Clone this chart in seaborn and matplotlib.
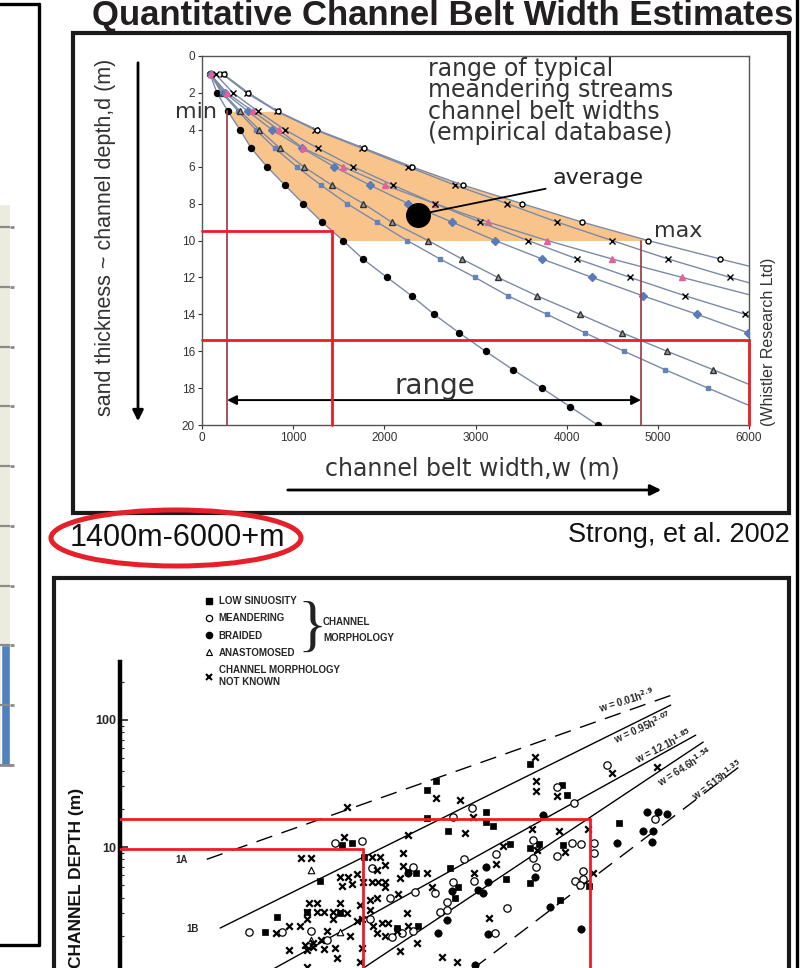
import numpy as np
import matplotlib
matplotlib.use("Agg")
import matplotlib.pyplot as plt
from matplotlib.lines import Line2D
from matplotlib.patches import Rectangle, Ellipse, FancyArrowPatch
from matplotlib.ticker import NullLocator, NullFormatter, LogLocator
import seaborn as sns

# ---------- upper chart: channel belt width (m) read at each depth (m) ----------
depth = list(range(1, 21))
w_dots = [90, 164, 285, 417, 540, 712, 910, 1110, 1316, 1546, 1765, 2030, 2300, 2545, 2820, 3110, 3410, 3728, 4035, 4340]
w_squares = [95, 215, 400, 590, 800, 1040, 1305, 1590, 1920, 2250, 2610, 2995, 3356, 3784, 4200, 4629, 5078, 5550, 6030]
w_triangles = [95, 230, 420, 630, 855, 1115, 1425, 1770, 2080, 2480, 2850, 3245, 3675, 4146, 4607, 5100, 5605, 6100]
w_diamonds = [95, 250, 505, 768, 1100, 1448, 1843, 2260, 2742, 3214, 3730, 4278, 4837, 5430, 5990, 6600]
w_pink = [95, 274, 560, 840, 1110, 1547, 2008, 2556, 3137, 3785, 4498, 5266, 6050]
w_cross = [150, 340, 614, 910, 1272, 1657, 2095, 2556, 3050, 3576, 4114, 4695, 5300, 5957, 6600]
w_cross_hi = [230, 490, 820, 1240, 1755, 2260, 2775, 3346, 3894, 4497, 5112, 5792, 6500]
w_circles = [240, 510, 830, 1260, 1780, 2300, 2863, 3510, 4168, 4892, 5682, 6500]

min_width, min_depth = 275, 3
max_width, max_depth = 4815, 10
avg_width, avg_depth = 2370, 8.6
range_depth = 18.65
red_depths = [9.5, 15.4]
red_widths = [1425, 6000]

# ---------- lower chart: channel width (m) vs channel depth (m), log-log ----------
unk_w = [56, 53, 24, 29, 90, 104, 114, 174, 159, 159,
         248, 293, 459, 68, 49, 57, 51, 62, 98, 76,
         90, 100, 114, 114, 150, 272, 145, 98, 86, 28,
         32, 27, 32, 37, 43, 49, 56, 49, 72, 86,
         171, 43, 68, 19, 23.5, 27, 74, 91, 108, 120,
         142, 174, 98, 114, 39, 15, 60, 35, 30, 26,
         27, 30, 19, 37, 45, 47, 74, 150, 206, 328,
         434, 72, 27, 1880, 1880, 2780, 7700, 17800, 583, 504,
         1750, 2880, 4930, 1020, 3220, 1920, 894, 594, 5420, 785,
         1850]
unk_h = [20.7, 12.0, 8.2, 8.2, 8.3, 8.3, 7.2, 12.4, 9.0, 7.1,
         6.2, 24.3, 23.5, 6.1, 5.8, 5.8, 4.9, 5.1, 6.6, 5.3,
         5.3, 5.3, 5.3, 4.8, 5.7, 4.8, 4.3, 4.0, 3.8, 3.6,
         3.6, 3.1, 3.1, 3.1, 3.1, 3.1, 3.0, 3.6, 3.5, 3.2,
         3.0, 2.7, 2.6, 2.4, 2.4, 2.7, 2.7, 2.4, 2.5, 2.5,
         2.2, 2.4, 2.1, 2.0, 2.2, 2.1, 2.0, 1.85, 1.75, 1.7,
         1.55, 1.63, 1.55, 1.57, 1.6, 1.34, 1.6, 1.52, 1.75, 1.37,
         1.24, 1.24, 1.14, 33, 27.6, 25.2, 38.3, 43, 17.3, 12.9,
         13.8, 13.4, 13.8, 10.2, 9.1, 9.5, 7.35, 6.2, 6.2, 2.76,
         51]
low_w = [248, 293, 248, 366, 51, 62, 77, 34, 174, 202,
         381, 418, 442, 15.4, 27, 49, 12.3, 142, 210, 1680,
         3050, 3340, 743, 846, 743, 1160, 1680, 1990, 3110, 8790,
         1080, 1680, 2940, 5030]
low_h = [28.1, 33, 17, 13.4, 10.4, 10.8, 8.3, 5.4, 6.35, 6.2,
         6.8, 4.0, 4.8, 2.8, 3.1, 3.0, 2.14, 2.3, 2.4, 45,
         31, 25.7, 18.9, 14.6, 15.7, 10.6, 9.9, 10.6, 10.4, 15.4,
         5.6, 5.2, 3.8, 4.9]
mea_w = [45, 74, 90, 191, 125, 199, 287, 403, 403, 360,
         316, 360, 86, 130, 156, 191, 9.1, 16.8, 29, 39,
         573, 2780, 3810, 7020, 494, 894, 1780, 1780, 1880, 3670,
         4340, 5520, 5520, 2780, 4500, 3880, 4500, 4260, 594, 1100,
         878, 17150]
mea_h = [10.8, 11.2, 6.8, 7.0, 4.0, 4.4, 4.35, 17.3, 5.3, 3.7,
         3.1, 3.2, 2.7, 1.96, 2.1, 2.2, 2.14, 2.14, 2.2, 1.85,
         20.3, 29.7, 22.3, 44, 8.0, 8.8, 11.4, 8.2, 7.0, 10.8,
         10.6, 10.8, 9.0, 8.5, 6.5, 5.4, 5.6, 5.0, 5.4, 3.3,
         2.1, 16.6]
bra_w = [174, 396, 360, 304, 2140, 743, 771, 641, 703, 1850,
         2440, 4340, 771, 606, 14800, 18100, 21400, 13700, 16500, 8470,
         16200]
bra_h = [6.2, 4.5, 2.66, 2.1, 17.9, 7.0, 5.3, 4.6, 4.35, 5.8,
         3.4, 2.26, 2.06, 1.18, 18.9, 18.9, 18.2, 13.4, 13.4, 10.8,
         11.0]
ana_w = [29, 29, 49]
ana_h = [6.6, 1.85, 2.14]

coef = [0.01, 0.95, 12.1, 64.6, 513]
expo = [2.9, 2.07, 1.85, 1.54, 1.35]
h_start = [8.0, 2.3, 1.0, 1.0, 1.0]
h_end = [157, 131, 76, 67, 44]
eq_labels = ["w = 0.01h$^{2.9}$", "w = 0.95h$^{2.07}$", "w = 12.1h$^{1.85}$",
             "w = 64.6h$^{1.54}$", "w = 513h$^{1.35}$"]
low_red_depths = [9.6, 16.6]
low_red_widths = [76, 5100]

# cropped neighbour chart at the left edge
side_cats = ["a"]
side_vals = [2.0]

# ---------------------------------------------------------------------------
sns.set_theme(style="white")
plt.rcParams["font.family"] = ["Liberation Sans", "DejaVu Sans"]
plt.rcParams["mathtext.default"] = "bf"
NARROW = ["Liberation Sans Narrow", "Liberation Sans", "DejaVu Sans"]
WIDE = ["DejaVu Sans"]

W, H = 805, 968
fig = plt.figure(figsize=(W / 100, H / 100), dpi=100)
fig.patch.set_facecolor("white")


def fx(px):
    return px / W


def fy(py):
    return 1 - py / H


def fline(x0, y0, x1, y1, **kw):
    fig.add_artist(Line2D([fx(x0), fx(x1)], [fy(y0), fy(y1)], transform=fig.transFigure, **kw))


# title
fig.text(fx(443), fy(25), "Quantitative Channel Belt Width Estimates", ha="center", va="baseline",
         fontsize=25, fontweight="bold", color="#231f20")

# slide frames
fline(0, 4, 39, 4, color="black", lw=2.4)
fline(39, 4, 39, 945, color="black", lw=2.4)
fline(0, 945, 39, 945, color="black", lw=2.4)
fline(797, 0, 797, 968, color="black", lw=2.4)
fig.add_artist(Rectangle((fx(73), fy(513)), fx(789) - fx(73), fy(33) - fy(513), transform=fig.transFigure,
                         fill=False, ec="#1a1a1a", lw=3))
fig.add_artist(Rectangle((fx(54), fy(1000)), fx(789) - fx(54), fy(578) - fy(1000), transform=fig.transFigure,
                         fill=False, ec="#1a1a1a", lw=3))

# ---- sliver of the neighbouring chart
ax0 = fig.add_axes([0, fy(765), fx(10), (765 - 205) / H])
ax0.set_facecolor("#ecebdf")
sns.barplot(x=side_cats, y=side_vals, ax=ax0, color="#4f81bd", width=1.0, saturation=1)
ax0.set_xlim(-0.6, 0.5)
ax0.set_ylim(0, 9.37)
ax0.set_yticks(range(0, 10))
ax0.yaxis.tick_right()
ax0.tick_params(axis="y", right=True, length=3, width=2, color="#8a8a8a", labelright=False)
ax0.set_xticks([])
ax0.set_xlabel("")
ax0.set_ylabel("")
ax0.grid(axis="y", color="#8a8a8a", lw=1.6)
ax0.set_axisbelow(False)
for s in ["top", "left", "right"]:
    ax0.spines[s].set_visible(False)
ax0.spines["bottom"].set_color("#8a8a8a")
ax0.spines["bottom"].set_linewidth(2)

# ---- upper chart
ax1 = fig.add_axes([fx(202), fy(425), (749 - 202) / W, (425 - 56) / H])
ax1.fill_betweenx(depth[2:10], w_dots[2:10], w_circles[2:10], color="#f8c48c", lw=0, zorder=1)

line_col = "#7c8aa6"
curves = [
    (w_dots, "o", "black", "black", 4.3),
    (w_squares, "s", "#6683b8", "#6683b8", 3.0),
    (w_triangles, "^", "#9a9a9a", "#333333", 3.8),
    (w_diamonds, "D", "#5a7bb6", "#5a7bb6", 4.0),
    (w_pink, "^", "#e4609c", "#e4609c", 4.0),
    (w_cross, "x", "black", "black", 4.3),
    (w_cross_hi, "x", "black", "black", 4.3),
    (w_circles, "o", "white", "black", 3.6),
]
for w, mk, fc, ec, ms in curves:
    sns.lineplot(x=w, y=depth[:len(w)], ax=ax1, color=line_col, lw=1.0, marker=mk, ms=ms,
                 markerfacecolor=fc, markeredgecolor=ec, markeredgewidth=1.0,
                 sort=False, estimator=None, zorder=3)

ax1.set_xlim(0, 6000)
ax1.set_ylim(20, 0)
ax1.set_xticks(range(0, 6001, 1000))
ax1.set_yticks(range(0, 21, 2))
ax1.tick_params(left=True, bottom=True, direction="out", length=3, width=0.8, pad=2,
                labelsize=8.5, colors="#333333")
for s in ax1.spines.values():
    s.set_color("#555555")
    s.set_linewidth(1.0)
ax1.set_xlabel("")
ax1.set_ylabel("")

# min / max guides and red reading lines
ax1.plot([min_width, min_width], [min_depth, 20], color="#a2434b", lw=1.3, zorder=4)
ax1.plot([max_width, max_width], [max_depth, 20], color="#a2434b", lw=1.3, zorder=4)
red = "#ee1c24"
for d, w in zip(red_depths, red_widths):
    ax1.plot([0, w], [d, d], color=red, lw=2, zorder=5, clip_on=False)
    ax1.plot([w, w], [d, 20], color=red, lw=2, zorder=5, clip_on=False)

ax1.plot([avg_width], [avg_depth], marker="o", ms=17, color="black", zorder=6)
ax1.annotate("average", xy=(avg_width, avg_depth), xytext=(553, H - 178), textcoords="figure pixels",
             ha="left", va="center", fontsize=16, family=WIDE, color="#222222",
             arrowprops=dict(arrowstyle="-", color="black", lw=1.3, shrinkA=3, shrinkB=6))
ax1.annotate("", xy=(min_width, range_depth), xytext=(max_width, range_depth),
             arrowprops=dict(arrowstyle="<|-|>", color="black", lw=1.4, mutation_scale=14,
                             shrinkA=0, shrinkB=0))

fig.text(fx(428), fy(57), "range of typical\nmeandering streams\nchannel belt widths\n(empirical database)",
         ha="left", va="top", fontsize=17, family=WIDE, color="#333333", linespacing=0.86)
fig.text(fx(217), fy(112), "min", ha="right", va="center", fontsize=16, family=WIDE, color="#333333")
fig.text(fx(654), fy(231), "max", ha="left", va="center", fontsize=16, family=WIDE, color="#333333")
fig.text(fx(435), fy(386), "range", ha="center", va="center", fontsize=20, family=WIDE, color="#333333")
fig.text(fx(472), fy(468), "channel belt width,w (m)", ha="center", va="center", fontsize=17,
         family=WIDE, color="#333333")
fig.add_artist(FancyArrowPatch((fx(285), fy(490)), (fx(664), fy(490)), transform=fig.transFigure,
                               arrowstyle="-|>", mutation_scale=16, lw=2, color="black"))
fig.text(fx(105), fy(237), "sand thickness ~ channel depth,d (m)", rotation=90, ha="center", va="center",
         fontsize=15.5, family=NARROW, color="#333333")
fig.add_artist(FancyArrowPatch((fx(138), fy(60)), (fx(138), fy(424)), transform=fig.transFigure,
                               arrowstyle="-|>", mutation_scale=16, lw=2, color="black"))
fig.text(fx(768), fy(342), "(Whistler Research Ltd)", rotation=90, ha="center", va="center",
         fontsize=11.5, family=NARROW, color="#333333")

# caption row
fig.text(fx(70), fy(538), "1400m-6000+m", ha="left", va="center", fontsize=22, family=NARROW, color="#111111")
fig.add_artist(Ellipse((fx(176), fy(538)), 250 / W, 56 / H, transform=fig.transFigure,
                       fill=False, ec="#e5202a", lw=3.6))
fig.text(fx(790), fy(535), "Strong, et al. 2002", ha="right", va="center", fontsize=19.5, family=NARROW,
         color="#111111")

# ---- lower chart
ax2 = fig.add_axes([fx(120), fy(974), (790 - 120) / W, (974 - 662) / H])
ax2.set_xscale("log")
ax2.set_yscale("log")
x_lo, x_hi = 10 ** (-10 / 124), 10 ** (660 / 124)
ax2.set_xlim(x_lo, x_hi)
ax2.set_ylim(1, 10 ** (1 + (847 - 662) / 127))

for a, b, h0, h1, k in zip(coef, expo, h_start, h_end, range(5)):
    hh = np.array([h0, h1])
    ls = (0, (12, 7)) if k in (0, 4) else "-"
    ax2.plot(a * hh ** b, hh, color="black", lw=1.0, ls=ls, zorder=2)

sns.scatterplot(x=low_w, y=low_h, ax=ax2, marker="s", s=20, color="black", edgecolor="black",
                linewidth=0.5, zorder=3)
sns.scatterplot(x=mea_w, y=mea_h, ax=ax2, marker="o", s=28, color="white", edgecolor="black",
                linewidth=0.9, zorder=3)
sns.scatterplot(x=bra_w, y=bra_h, ax=ax2, marker="o", s=28, color="black", edgecolor="black",
                linewidth=0.5, zorder=3)
sns.scatterplot(x=ana_w, y=ana_h, ax=ax2, marker="^", s=22, color="white", edgecolor="black",
                linewidth=0.8, zorder=3)
sns.scatterplot(x=unk_w, y=unk_h, ax=ax2, marker="x", s=22, color="black", linewidth=1.6, zorder=3)

for d, w in zip(low_red_depths, low_red_widths):
    ax2.plot([x_lo, w], [d, d], color=red, lw=2, zorder=5)
    ax2.plot([w, w], [d, 1], color=red, lw=2, zorder=5)

for s in ["top", "right", "bottom"]:
    ax2.spines[s].set_visible(False)
ax2.spines["left"].set_linewidth(3.2)
ax2.spines["left"].set_color("black")
ax2.xaxis.set_major_locator(NullLocator())
ax2.xaxis.set_minor_locator(NullLocator())
ax2.set_yticks([10, 100], labels=["10", "100"])
ax2.yaxis.set_minor_locator(LogLocator(base=10, subs=np.arange(2, 10)))
ax2.yaxis.set_minor_formatter(NullFormatter())
ax2.tick_params(axis="y", which="major", left=True, direction="in", length=6, width=1.2, labelsize=9, pad=3)
ax2.tick_params(axis="y", which="minor", left=True, direction="in", length=3, width=0.8)
for lbl in ax2.get_yticklabels():
    lbl.set_fontweight("bold")
ax2.set_xlabel("")
ax2.set_ylabel("")

fig.text(fx(76), fy(878), "CHANNEL DEPTH (m)", rotation=90, ha="center", va="center", fontsize=12.5,
         fontweight="bold", color="#111111")
fig.text(fx(182), fy(860), "1A", ha="center", va="center", fontsize=7, fontweight="bold")
fig.text(fx(193), fy(929), "1B", ha="center", va="center", fontsize=7, fontweight="bold")

label_pos = [(626, 700, 17), (643, 727, 24), (663, 746, 27), (685, 767, 32), (717, 780, 36)]
for txt, (px, py, rot) in zip(eq_labels, label_pos):
    fig.text(fx(px), fy(py), txt, ha="center", va="center", rotation=rot, fontsize=7, fontweight="bold",
             rotation_mode="anchor")

handles = [
    Line2D([], [], ls="", marker="s", color="black", ms=4),
    Line2D([], [], ls="", marker="o", mfc="white", mec="black", mew=0.9, ms=4.5),
    Line2D([], [], ls="", marker="o", color="black", ms=4.5),
    Line2D([], [], ls="", marker="^", mfc="white", mec="black", mew=0.8, ms=4.2),
    Line2D([], [], ls="", marker="x", color="black", mew=1.5, ms=4),
]
labels = ["LOW SINUOSITY", "MEANDERING", "BRAIDED", "ANASTOMOSED", "CHANNEL MORPHOLOGY\nNOT KNOWN"]
fig.legend(handles, labels, loc="upper left", bbox_to_anchor=(fx(205), fy(596)), frameon=False,
           prop=dict(size=7, weight="bold"), handlelength=0.8, handletextpad=0.6, labelspacing=0.75,
           borderpad=0, borderaxespad=0)
fig.text(fx(312), fy(630), "}", ha="center", va="center", fontsize=44, family=["Liberation Serif"],
         color="#222222")
fig.text(fx(323), fy(630), "CHANNEL\nMORPHOLOGY", ha="left", va="center", fontsize=7, fontweight="bold",
         linespacing=1.7)

fig.savefig("out.png", dpi=100)
